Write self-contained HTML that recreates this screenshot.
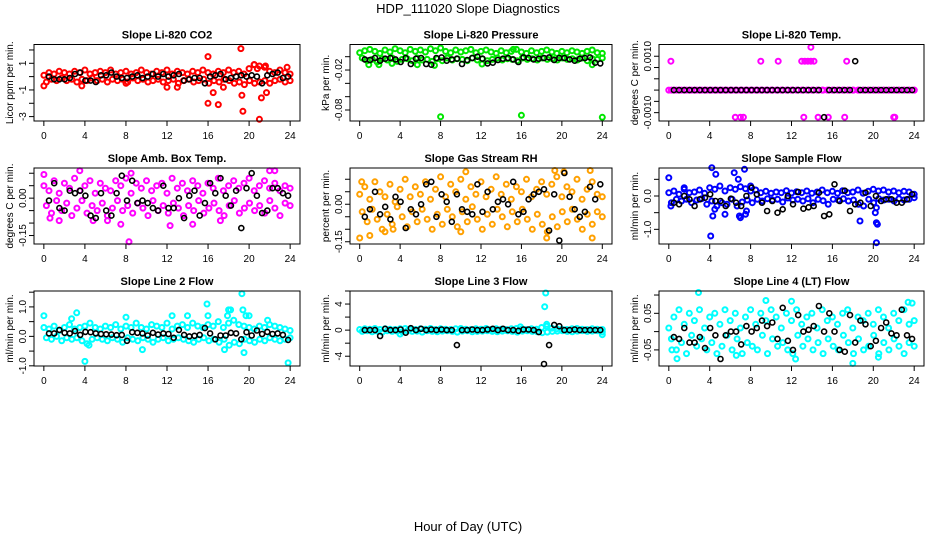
<!DOCTYPE html>
<html><head><meta charset="utf-8"><style>
html,body{margin:0;padding:0;background:#fff;}
svg{display:block;font-family:"Liberation Sans",Arial,sans-serif;}
</style></head><body>
<svg id="chart" width="936" height="540" viewBox="0 0 936 540" xmlns="http://www.w3.org/2000/svg">
<text x="468" y="13" text-anchor="middle" font-size="13">HDP_111020  Slope Diagnostics</text>
<text x="468" y="531" text-anchor="middle" font-size="13">Hour of Day (UTC)</text>
<g id="panels"></g>
</svg>
<script>
// ---- shared x axis ----
const xTicks = [0,4,8,12,16,20,24];

// ---- panel 1: Li-820 CO2 ----
const co2A = [0.1,0.3,0.2,0.4,0.3,0.2,0.4,0.3,0.5,0.2,0.3,0.4,0.3,0.5,0.2,0.3,0.4,0.2,0.3,0.5,0.3,0.2,0.4,0.3,0.5,0.2,0.4,0.3,0.2,0.4,0.3,0.5,0.3,0.2,0.4,0.3,0.5,0.3,0.4,0.2,0.6,0.9,0.8,0.7,0.4,0.3,0.5,0.3,0.2];
const co2B = [-0.4,-0.2,-0.3,-0.1,-0.3,-0.2,-0.4,-0.2,-0.3,-0.1,-0.3,-0.2,-0.4,-0.2,-0.3,-0.2,-0.4,-0.1,-0.3,-0.2,-0.4,-0.3,-0.2,-0.4,-0.3,-0.2,-0.5,-0.3,-0.2,-0.4,-0.3,-0.2,-0.5,-0.3,-0.4,-0.2,-0.3,-0.5,-0.4,-0.6,-0.3,-0.5,-0.4,-0.3,-0.5,-0.3,-0.2,-0.4,-0.3];
const co2Black = [0,-0.2,-0.2,-0.2,-0.1,0.2,0.3,-0.3,-0.3,-0.4,0.1,0.1,0.3,0,-0.1,-0.1,0,0.1,-0.1,0,0.2,0,0.2,0,0.1,0.2,-0.3,-0.2,-0.1,-0.1,-0.5,0,0.1,0.2,-0.2,-0.1,0,0.1,0,0.1,0,-0.5,0.1,0.2,0.3,-0.1,0];
const co2OutX = [0,3.7,8,12,13,16,16,16.5,17,17.5,19.2,19.3,19.4,20.5,20.8,21,21.2,21.6,21.7,23.7];
const co2OutY = [-0.7,-0.7,-0.5,-0.8,-0.8,1.5,-2,-1.2,-2.1,-0.8,2.1,-1.4,-2.6,0.9,0.6,-3.2,-1.6,0.8,-1.2,0.7];
const co2Ticks = [2,1,0,-1,-2,-3];
const co2Labels = ["","1","","-1","","-3"];

// ---- panel 2: Li-820 Pressure ----
const presA = [0.006,0.009,0.011,0.008,0.005,0.01,0.007,0.012,0.009,0.006,0.011,0.008,0.01,0.007,0.012,0.009,0.013,0.008,0.006,0.01,0.007,0.009,0.011,0.006,0.008,0.01,0.007,0.005,0.009,0.006,0.008,0.011,0.007,0.005,0.009,0.006,0.008,0.01,0.007,0.005,0.008,0.006,0.009,0.007,0.005,0.008,0.01,0.006,0.005];
const presB = [-0.002,-0.006,-0.004,-0.008,-0.003,-0.005,-0.002,-0.007,-0.004,-0.003,-0.006,-0.002,-0.005,-0.004,-0.007,-0.003,-0.006,-0.002,-0.005,-0.003,-0.004,-0.006,-0.002,-0.005,-0.003,-0.006,-0.004,-0.002,-0.005,-0.003,-0.004,-0.006,-0.002,-0.004,-0.003,-0.005,-0.002,-0.004,-0.003,-0.005,-0.002,-0.004,-0.003,-0.005,-0.002,-0.006,-0.003,-0.004,-0.002];
const presBlack = [-0.004,-0.005,-0.002,-0.006,-0.003,-0.002,-0.004,-0.008,-0.002,-0.011,-0.003,-0.002,-0.011,-0.012,-0.002,-0.001,-0.006,-0.004,-0.003,-0.011,-0.005,-0.002,0.0,-0.003,-0.01,-0.009,-0.005,-0.003,-0.002,-0.004,-0.008,-0.001,-0.002,-0.004,-0.003,-0.002,-0.001,-0.005,-0.002,-0.002,-0.004,-0.006,-0.003,-0.002,-0.001,-0.009,-0.01];
const presOutX = [0.9,1.9,3.2,5.7,7.4,8,12.1,15.2,16,23,24];
const presOutY = [-0.012,-0.012,-0.01,-0.012,-0.013,-0.09,-0.011,0.011,-0.088,-0.012,-0.091];
const presTicks = [0,-0.02,-0.04,-0.06,-0.08];
const presLabels = ["","-0.02","","","-0.08"];

// ---- panel 3: Li-820 Temp ----
const tempA = Array.from({length:49}, () => -0.0005);
const tempB = Array.from({length:49}, () => -0.0005);
const tempBlack = [-0.0005,-0.0005,-0.0005,-0.0005,-0.0005,-0.0005,-0.0005,-0.0005,-0.0005,-0.0005,-0.0005,-0.0005,-0.0005,-0.0005,-0.0005,-0.0005,-0.0005,-0.0005,-0.0005,-0.0005,-0.0005,-0.0005,-0.0005,-0.0005,-0.0005,-0.0005,-0.0005,-0.0005,-0.0005,-0.0017,-0.0005,-0.0005,-0.0005,-0.0005,-0.0005,0.00078,-0.0005,-0.0005,-0.0005,-0.0005,-0.0005,-0.0005,-0.0005,-0.0005,-0.0005,-0.0005,-0.0005];
const tempOutX = [0.2,9,10.7,13,13.3,13.6,13.9,14.2,13.9,17.4,6.5,7,7.3,13.2,14.6,15.6,17.2,22,22.1];
const tempOutY = [0.00078,0.00078,0.00078,0.00078,0.00078,0.00078,0.00078,0.00078,0.0014,0.00078,-0.0017,-0.0017,-0.0017,-0.0017,-0.0017,-0.0017,-0.0017,-0.0017,-0.0017];
const tempTicks = [0.001,0.0005,0,-0.0005,-0.001,-0.0015];
const tempLabels = ["0.0010","","","","","-0.0010"];

// ---- panel 4: Amb. Box Temp ----
const ambA = [0.05,0.03,0.07,0.02,0.06,0.04,0.08,0.03,0.05,0.07,0.02,0.06,0.04,0.03,0.07,0.05,0.08,0.02,0.06,0.04,0.07,0.03,0.05,0.06,0.02,0.08,0.04,0.06,0.03,0.07,0.05,0.02,0.06,0.04,0.08,0.03,0.05,0.07,0.04,0.06,0.08,0.03,0.05,0.07,0.04,0.06,0.03,0.05,0.04];
const ambB = [-0.03,-0.06,-0.01,-0.05,-0.02,-0.07,-0.04,-0.01,-0.06,-0.03,-0.05,-0.02,-0.07,-0.04,-0.01,-0.05,-0.03,-0.06,-0.02,-0.04,-0.07,-0.01,-0.05,-0.03,-0.06,-0.02,-0.04,-0.07,-0.03,-0.05,-0.01,-0.06,-0.04,-0.02,-0.05,-0.07,-0.03,-0.01,-0.06,-0.04,-0.02,-0.05,-0.03,-0.06,-0.01,-0.04,-0.07,-0.02,-0.03];
const ambBlack = [-0.01,0.06,-0.04,-0.05,0.03,0.02,0.03,0.01,-0.07,-0.08,0.02,-0.05,-0.07,0.02,0.09,-0.01,0.07,-0.02,-0.01,-0.02,-0.04,-0.05,0.05,-0.04,-0.04,0.0,-0.08,0.01,0.03,-0.07,-0.02,0.06,0.02,0.08,0.01,-0.03,0.03,-0.12,0.04,0.1,0.01,-0.06,-0.05,0.04,0.04,0.02,0.01];
const ambOutX = [0,0.6,1.5,3.5,4.8,6.2,7.5,8.3,8.5,12.3,14.5,17.2,22,22.5];
const ambOutY = [0.095,-0.08,-0.09,0.11,-0.09,-0.09,-0.105,-0.175,0.1,-0.11,-0.105,-0.09,0.11,0.11];
const ambTicks = [0.1,0.05,0,-0.05,-0.1,-0.15];
const ambLabels = ["","","0.00","","","-0.15"];

// ---- panel 5: Gas Stream RH ----
const rhA = [0.04,0.07,0.02,0.09,0.05,0.03,0.08,0.01,0.06,0.1,0.03,0.07,0.04,0.09,0.02,0.06,0.11,0.03,0.08,0.05,0.1,0.02,0.07,0.04,0.09,0.03,0.06,0.11,0.04,0.08,0.02,0.07,0.05,0.1,0.03,0.06,0.09,0.04,0.08,0.11,0.03,0.07,0.05,0.1,0.02,0.06,0.09,0.04,0.03];
const rhB = [-0.03,-0.07,-0.02,-0.06,-0.1,-0.04,-0.08,-0.01,-0.05,-0.09,-0.03,-0.07,-0.02,-0.06,-0.1,-0.04,-0.08,-0.02,-0.05,-0.09,-0.03,-0.07,-0.01,-0.06,-0.1,-0.04,-0.08,-0.02,-0.05,-0.09,-0.03,-0.07,-0.02,-0.06,-0.1,-0.04,-0.08,-0.11,-0.05,-0.09,-0.03,-0.07,-0.02,-0.06,-0.1,-0.04,-0.08,-0.03,-0.05];
const rhBlack = [-0.05,-0.02,0.05,-0.04,-0.01,-0.06,0.03,0.01,-0.095,-0.02,-0.04,0.0,0.08,0.09,-0.05,0.04,0.01,-0.07,0.04,-0.02,-0.03,-0.04,0.08,-0.03,0.05,-0.02,0.01,0.02,0.0,0.09,-0.04,-0.03,0.02,0.04,0.05,0.06,-0.105,0.04,-0.145,0.125,0.03,-0.02,-0.05,-0.03,0.07,0.02,0.08];
const rhOutX = [0,0.2,1,2.5,3.3,10,10.5,18.5,19.3,20.2,22.8,23];
const rhOutY = [-0.135,0.09,-0.125,-0.11,-0.1,-0.11,0.13,-0.135,0.135,0.13,0.135,-0.135];
const rhTicks = [0.1,0.05,0,-0.05,-0.1,-0.15];
const rhLabels = ["","","0.00","","","-0.15"];

// ---- panel 6: Sample Flow ----
const sfA = [0.1,0.15,0.05,0.2,0.1,0.12,0.18,0.08,0.25,0.2,0.3,0.15,0.25,0.2,0.28,0.22,0.15,0.18,0.1,0.14,0.08,0.12,0.1,0.16,0.09,0.13,0.1,0.15,0.08,0.12,0.18,0.1,0.14,0.08,0.16,0.1,0.12,0.18,0.08,0.14,0.2,0.15,0.18,0.12,0.15,0.1,0.14,0.12,0.05];
const sfB = [-0.2,-0.1,-0.15,-0.1,-0.2,-0.12,-0.08,-0.25,-0.15,-0.3,-0.2,-0.25,-0.1,-0.3,-0.18,-0.12,-0.2,-0.1,-0.15,-0.08,-0.12,-0.1,-0.18,-0.06,-0.12,-0.1,-0.15,-0.08,-0.2,-0.1,-0.14,-0.25,-0.1,-0.12,-0.08,-0.15,-0.12,-0.25,-0.3,-0.1,-0.2,-0.08,-0.12,-0.1,-0.15,-0.08,-0.12,-0.1,-0.05];
const sfBlack = [-0.2,-0.25,0.0,-0.1,-0.3,-0.1,-0.05,0.05,-0.15,-0.15,-0.3,-0.08,-0.2,-0.3,0.0,0.25,0.05,-0.2,-0.45,-0.15,-0.5,-0.4,0.0,-0.25,0.12,-0.38,-0.34,-0.3,0.1,-0.6,-0.55,0.35,-0.15,0.16,-0.45,-0.25,-0.2,0.1,-0.3,0.0,-0.15,-0.1,-0.1,-0.2,-0.2,-0.1,0.05];
const sfOutX = [0,0.2,1.5,4.1,4.2,4.3,4.5,4.6,5.5,6.4,6.8,6.9,7,7.4,7.5,7.6,8,18.7,20.2,20.3,20.3,20.4,20.3];
const sfOutY = [0.55,-0.3,0.25,-1.2,0.85,-0.6,-0.4,0.65,-0.55,0.7,0.5,-0.6,-0.65,0.8,-0.55,-0.45,0.3,-0.75,-0.5,-0.8,-1.4,-0.85,-0.35];
const sfTicks = [0.5,0,-0.5,-1.0];
const sfLabels = ["","0.0","","-1.0"];

// ---- panel 7: Line 2 Flow ----
const l2A = [0.3,0.25,0.35,0.2,0.3,0.4,0.25,0.3,0.35,0.45,0.3,0.25,0.35,0.3,0.4,0.25,0.35,0.3,0.45,0.3,0.25,0.4,0.35,0.3,0.45,0.25,0.35,0.4,0.3,0.45,0.35,0.3,0.4,0.35,0.5,0.3,0.45,0.55,0.4,0.35,0.3,0.25,0.35,0.3,0.4,0.35,0.3,0.25,0.2];
const l2B = [-0.05,-0.1,0.0,-0.15,-0.05,-0.1,-0.05,-0.15,-0.25,-0.1,-0.05,-0.1,-0.15,-0.05,-0.1,-0.2,-0.05,-0.1,-0.15,-0.05,-0.1,-0.2,-0.1,-0.05,-0.15,-0.1,-0.05,-0.1,-0.15,-0.2,-0.1,-0.05,-0.15,-0.1,-0.2,-0.1,-0.3,-0.2,-0.25,-0.1,-0.15,-0.2,-0.1,-0.15,-0.05,-0.1,-0.15,-0.1,-0.05];
const l2Black = [0.1,0.1,0.22,0.12,0.1,0.18,0.05,0.15,0.14,0.1,0.08,0.07,0.06,0.04,0.05,-0.15,0.14,0.12,0.1,0.03,0.12,0.06,0.1,0.08,-0.05,0.22,0.05,0.0,0.02,0.05,0.28,0.1,-0.1,0.03,0.03,0.12,0.1,-0.1,0.14,0.03,0.2,0.08,0.15,0.08,0.1,0.05,-0.12];
const l2OutX = [0,2.7,3.2,4,4.4,8,9.6,12.5,14,15.9,16,17.6,17.9,18,18.2,19.3,19.4,19.5,19.7,20,21.8,23.8];
const l2OutY = [0.7,0.6,0.8,-0.85,-0.3,0.65,-0.45,0.7,0.7,1.1,0.7,-0.45,0.7,0.9,0.9,1.45,0.9,-0.55,0.7,0.7,0.55,-0.9];
const l2Ticks = [1.5,1.0,0.5,0,-0.5,-1.0];
const l2Labels = ["","1.0","","0.0","","-1.0"];

// ---- panel 8: Line 3 Flow ----
const l3A = [0.1,0.2,0.15,0.25,0.1,0.2,0.15,0.1,0.2,0.25,0.15,0.1,0.2,0.15,0.25,0.1,0.2,0.15,0.1,0.2,0.25,0.15,0.1,0.2,0.15,0.25,0.1,0.2,0.15,0.1,0.2,0.25,0.15,0.1,0.2,0.15,0.4,0.6,0.3,0.2,0.15,0.1,0.2,0.25,0.15,0.1,0.2,0.15,0.1];
const l3B = [-0.2,-0.1,-0.25,-0.15,-0.3,-0.1,-0.2,-0.15,-0.25,-0.1,-0.2,-0.15,-0.3,-0.1,-0.2,-0.25,-0.15,-0.1,-0.2,-0.3,-0.15,-0.1,-0.25,-0.2,-0.15,-0.1,-0.2,-0.25,-0.15,-0.1,-0.2,-0.3,-0.15,-0.1,-0.2,-0.25,-0.4,-0.3,-0.2,-0.15,-0.1,-0.2,-0.25,-0.15,-0.1,-0.2,-0.15,-0.1,-0.3];
const l3Black = [0,0,0,-0.9,0.2,0,0,0.1,-0.4,0.3,0,0.2,0,0.1,0,0.1,0,0,-2.3,0,0,0.1,0,0,0.1,0.2,0,0.2,0,0,-0.1,0.1,0.1,0,-0.3,-5.2,-2.3,0.8,0.6,0,0,0.1,0,0,0,0,0];
const l3OutX = [4,15.9,18.3,18.4,18.5,24];
const l3OutY = [-0.6,0.5,3.6,5.7,0.9,-0.7];
const l3Ticks = [6,4,2,0,-2,-4];
const l3Labels = ["","4","","0","","-4"];

// ---- panel 9: Line 4 (LT) Flow ----
const l4A = [0.01,0.04,0.06,0.02,0.05,0.03,0.06,0.01,0.04,0.05,0.02,0.06,0.03,0.05,0.01,0.04,0.06,0.02,0.05,0.03,0.06,0.04,0.01,0.05,0.03,0.06,0.02,0.04,0.05,0.01,0.06,0.03,0.04,0.02,0.05,0.06,0.01,0.04,0.03,0.05,0.02,0.06,0.04,0.01,0.05,0.03,0.06,0.02,0.03];
const l4B = [-0.02,-0.05,-0.03,-0.06,-0.01,-0.04,-0.02,-0.05,-0.03,-0.06,-0.04,-0.01,-0.05,-0.02,-0.06,-0.03,-0.04,-0.05,-0.01,-0.06,-0.02,-0.04,-0.03,-0.05,-0.06,-0.01,-0.04,-0.02,-0.05,-0.03,-0.06,-0.02,-0.04,-0.05,-0.01,-0.03,-0.06,-0.02,-0.05,-0.04,-0.01,-0.06,-0.03,-0.05,-0.02,-0.04,-0.06,-0.03,-0.04];
const l4Black = [-0.015,-0.02,0.01,-0.03,-0.03,-0.015,-0.045,0.01,-0.01,-0.075,-0.01,0.0,0.0,-0.035,0.015,0.0,0.01,0.03,0.015,0.025,-0.02,0.065,-0.025,-0.05,0.045,0.0,0.005,0.015,0.07,0.0,0.05,0.0,-0.05,-0.055,0.045,-0.03,0.03,0.02,-0.04,-0.025,0.01,0.025,-0.005,-0.01,0.06,-0.01,-0.02];
const l4OutX = [0.3,0.8,2.9,6.6,9.5,12,12.4,18,20.5,23.4,23.8];
const l4OutY = [-0.05,-0.074,0.107,-0.065,0.085,0.083,-0.075,-0.087,-0.07,0.08,0.078];
const l4Ticks = [0.1,0.05,0,-0.05];
const l4Labels = ["","0.05","","-0.05"];

// ---- layout (not data) ----
const colsX = [[34,300],[350,612],[659,924]];
const rowsY = [[44.5,121],[168,244],[291,366]];
const panels = [
 {name:"co2",title:"Slope Li-820 CO2",ylab:"Licor ppm per min.",col:"#ff0000",A:co2A,B:co2B,K:co2Black,ox:co2OutX,oy:co2OutY,ticks:co2Ticks,labels:co2Labels,dom:[-3.33,2.41]},
 {name:"pressure",title:"Slope Li-820 Pressure",ylab:"kPa per min.",col:"#00e600",A:presA,B:presB,K:presBlack,ox:presOutX,oy:presOutY,ticks:presTicks,labels:presLabels,dom:[-0.0965,0.0183]},
 {name:"li820-temp",title:"Slope Li-820 Temp.",ylab:"degrees C per min.",col:"#ff00ff",A:tempA,B:tempB,K:tempBlack,ox:tempOutX,oy:tempOutY,ticks:tempTicks,labels:tempLabels,dom:[-0.00187,0.00152]},
 {name:"amb-box-temp",title:"Slope Amb. Box Temp.",ylab:"degrees C per min.",col:"#ff00ff",A:ambA,B:ambB,K:ambBlack,ox:ambOutX,oy:ambOutY,ticks:ambTicks,labels:ambLabels,dom:[-0.184,0.121]},
 {name:"gas-stream-rh",title:"Slope Gas Stream RH",ylab:"percent per min.",col:"#ffa000",A:rhA,B:rhB,K:rhBlack,ox:rhOutX,oy:rhOutY,ticks:rhTicks,labels:rhLabels,dom:[-0.159,0.145]},
 {name:"sample-flow",title:"Slope Sample Flow",ylab:"ml/min per min.",col:"#0000ff",A:sfA,B:sfB,K:sfBlack,ox:sfOutX,oy:sfOutY,ticks:sfTicks,labels:sfLabels,dom:[-1.44,0.84]},
 {name:"line2-flow",title:"Slope Line 2 Flow",ylab:"ml/min per min.",col:"#00ffff",A:l2A,B:l2B,K:l2Black,ox:l2OutX,oy:l2OutY,ticks:l2Ticks,labels:l2Labels,dom:[-1.006,1.54]},
 {name:"line3-flow",title:"Slope Line 3 Flow",ylab:"ml/min per min.",col:"#00ffff",A:l3A,B:l3B,K:l3Black,ox:l3OutX,oy:l3OutY,ticks:l3Ticks,labels:l3Labels,dom:[-5.5,6.0]},
 {name:"line4-flow",title:"Slope Line 4 (LT) Flow",ylab:"ml/min per min.",col:"#00ffff",A:l4A,B:l4B,K:l4Black,ox:l4OutX,oy:l4OutY,ticks:l4Ticks,labels:l4Labels,dom:[-0.094,0.111]}
];
const NS = "http://www.w3.org/2000/svg";
const root = document.getElementById("panels");
function mk(tag, attrs, parent){const e=document.createElementNS(NS,tag);for(const k in attrs)e.setAttribute(k,attrs[k]);parent.appendChild(e);return e;}

panels.forEach((p, idx) => {
  const [x0,x1] = colsX[idx%3], [y0,y1] = rowsY[Math.floor(idx/3)];
  const g = mk("g",{},root);
  
  
  const xs = v => x0 + (v + 0.96) / 25.92 * (x1 - x0);
  const ys = v => y1 - (v - p.dom[0]) / (p.dom[1] - p.dom[0]) * (y1 - y0);
  const t = mk("text",{x:(x0+x1)/2,y:y0-6,"text-anchor":"middle","font-size":"11","font-weight":"bold"},g);
  t.textContent = p.title;
  
  
  const yl = mk("text",{x:x0-21,y:(y0+y1)/2,"text-anchor":"middle","font-size":"10",transform:`rotate(-90 ${x0-21} ${(y0+y1)/2})`},g);
  yl.textContent = p.ylab;
  
  
  // points
  const pts = mk("g",{fill:"none"},g);
  
  
  const dot = (x,y,c,w) => {const yy=ys(y); if(yy<y0-2||yy>y1+2) return; mk("circle",{cx:xs(x).toFixed(1),cy:yy.toFixed(1),r:"2.5",stroke:c,"stroke-width":w},pts);};
  p.A.forEach((v,i)=>dot(i*24/(p.A.length-1), v, p.col, 2));
  p.B.forEach((v,i)=>dot(0.25+i*23.75/(p.B.length-1), v, p.col, 2));
  p.ox.forEach((x,i)=>dot(x, p.oy[i], p.col, 2));
  p.K.forEach((v,i)=>dot(0.5+i*23.3/(p.K.length-1), v, "#000", 1.6));
  // box
  const b = mk("rect",{x:x0,y:y0,width:x1-x0,height:y1-y0,fill:"none",stroke:"#000","stroke-width":"1"},g);
  
  
  // x axis
  const xa = mk("g",{"font-size":"10","text-anchor":"middle"},g);
  
  
  xTicks.forEach(v=>{const x=xs(v);mk("line",{x1:x,x2:x,y1:y1,y2:y1+5,stroke:"#000"},xa);const tt=mk("text",{x:x,y:y1+18},xa);tt.textContent=v;});
  // y axis
  const ya = mk("g",{"font-size":"10","text-anchor":"middle"},g);
  
  
  p.ticks.forEach((v,i)=>{const y=ys(v);mk("line",{x1:x0-5,x2:x0,y1:y,y2:y,stroke:"#000"},ya);
    if(p.labels[i]){const tt=mk("text",{x:x0-8,y:y,transform:`rotate(-90 ${x0-8} ${y})`},ya);tt.textContent=p.labels[i];}});
});
</script>
</body></html>
